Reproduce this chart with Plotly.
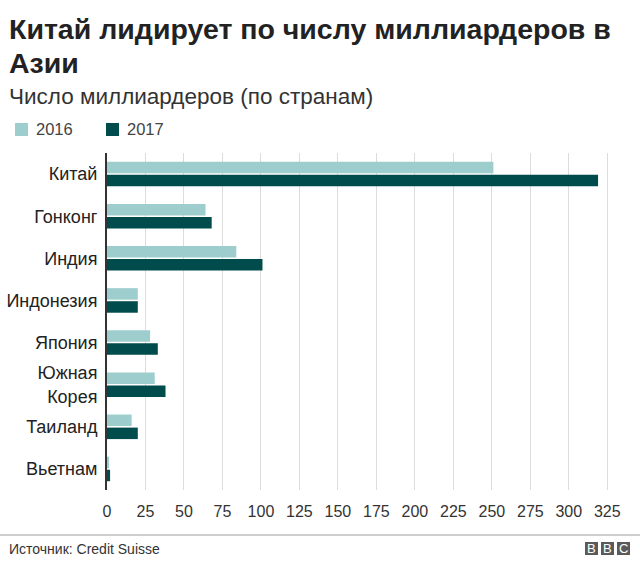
import plotly.graph_objects as go

# data
countries = ["Китай", "Гонконг", "Индия", "Индонезия", "Япония",
             "Южная<br>Корея", "Таиланд", "Вьетнам"]
vals_2016 = [251, 64, 84, 20, 28, 31, 16, 1]
vals_2017 = [319, 68, 101, 20, 33, 38, 20, 2]
ticks = list(range(0, 326, 25))

light = "#9ecdcd"
dark = "#004b4b"
font = "Liberation Sans, Arial, Helvetica, sans-serif"

W, H = 640, 561
L, R, T, B = 107, 25, 153, 71
pw, ph = W - L - R, H - T - B


def px(x):
    return (x - L) / pw


def py(y):
    return (H - B - y) / ph


fig = go.Figure()
fig.add_trace(go.Bar(y=countries, x=vals_2016, orientation="h", name="2016",
                     marker=dict(color=light, line=dict(width=0))))
fig.add_trace(go.Bar(y=countries, x=vals_2017, orientation="h", name="2017",
                     marker=dict(color=dark, line=dict(width=0))))

fig.update_layout(
    width=W, height=H,
    margin=dict(l=L, r=R, t=T, b=B, autoexpand=False),
    paper_bgcolor="white", plot_bgcolor="white",
    barmode="group", bargap=0.38, bargroupgap=0.12,
    showlegend=False,
    font=dict(family=font, color="#222"),
)
fig.update_xaxes(range=[0, 330], tickvals=ticks, showgrid=True,
                 gridcolor="#dcdcdc", gridwidth=1, zeroline=False,
                 showline=False, ticks="", tickfont=dict(size=16, color="#333"),
                 ticklabelstandoff=10, automargin=False, fixedrange=True)
fig.update_yaxes(autorange="reversed", showgrid=False, zeroline=False,
                 showline=True, linecolor="#333", linewidth=2, ticks="",
                 ticklabelstandoff=4, automargin=False,
                 tickfont=dict(size=18, color="#222"), fixedrange=True)

ann = [
    dict(text="<b>Китай лидирует по числу миллиардеров в</b>", x=px(7), y=py(29),
         font=dict(size=28.5, color="#222")),
    dict(text="<b>Азии</b>", x=px(7), y=py(63), font=dict(size=28.5, color="#222")),
    dict(text="Число миллиардеров (по странам)", x=px(7), y=py(96),
         font=dict(size=22.5, color="#333")),
    dict(text="2016", x=px(34), y=py(129), font=dict(size=16.5, color="#444")),
    dict(text="2017", x=px(125), y=py(129), font=dict(size=16.5, color="#444")),
    dict(text="Источник: Credit Suisse", x=px(7), y=py(549),
         font=dict(size=14, color="#333")),
]
annotations = [dict(a, xref="paper", yref="paper", xanchor="left",
                    yanchor="middle", showarrow=False) for a in ann]

shapes = [
    dict(type="rect", x0=px(15), x1=px(28), y0=py(123), y1=py(136), fillcolor=light),
    dict(type="rect", x0=px(106), x1=px(119), y0=py(123), y1=py(136), fillcolor=dark),
    dict(type="line", x0=px(0), x1=px(640), y0=py(535), y1=py(535),
         line=dict(color="#cfcfcf", width=2)),
]
for i, letter in enumerate("BBC"):
    x0 = 585 + i * 16
    shapes.append(dict(type="rect", x0=px(x0), x1=px(x0 + 13), y0=py(542),
                       y1=py(555), fillcolor="#5a5a5a"))
    annotations.append(dict(text=letter, x=px(x0 + 6.5), y=py(548.5),
                            xref="paper", yref="paper", showarrow=False,
                            xanchor="center", yanchor="middle",
                            font=dict(size=13, color="white")))
for s in shapes:
    s.update(xref="paper", yref="paper")
    s.setdefault("line", dict(width=0))

fig.update_layout(annotations=annotations, shapes=shapes)

# page has a default 8px body margin; drop it so the figure sits at 0,0
fig.write_html("out.html", config={"displayModeBar": False},
               post_script="document.body.style.margin='0';")
